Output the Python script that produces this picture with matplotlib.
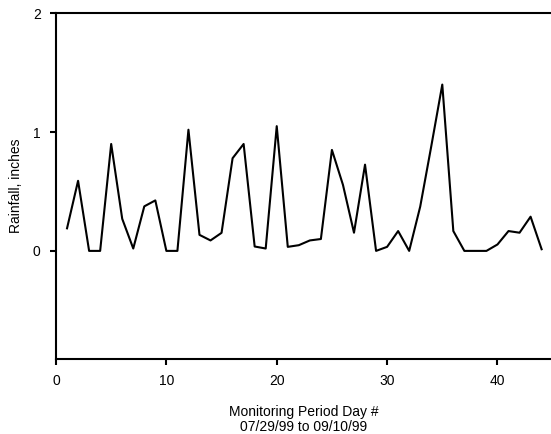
import matplotlib
matplotlib.use("Agg")
import matplotlib.pyplot as plt

plt.rcParams['font.family'] = ['Liberation Sans', 'DejaVu Sans']

days = list(range(1, 45))
rainfall = [0.19, 0.59, 0.0, 0.0, 0.90, 0.27, 0.02, 0.375, 0.425, 0.0,
            0.0, 1.02, 0.135, 0.088, 0.152, 0.78, 0.90, 0.037, 0.02, 1.05,
            0.034, 0.048, 0.088, 0.10, 0.85, 0.556, 0.153, 0.726, 0.0, 0.034,
            0.167, 0.0, 0.373, 0.88, 1.40, 0.167, 0.0, 0.0, 0.0, 0.054,
            0.167, 0.153, 0.288, 0.014]
xticks = [0, 10, 20, 30, 40]
yticks = [0, 1, 2]

fig = plt.figure(figsize=(5.51, 4.34), dpi=100)
ax = fig.add_axes([56/551, 1 - 359/434, 1 - 56/551, (359 - 13.3)/434])
ax.plot(days, rainfall, color='black', linewidth=1.5)
ax.set_xlim(0, 44.85)
ax.set_ylim(-0.91, 2)
ax.set_xticks(xticks)
ax.set_yticks(yticks)
ax.spines['right'].set_visible(False)
for s in ['left', 'bottom', 'top']:
    ax.spines[s].set_linewidth(1.5)
ax.tick_params(direction='out', length=4, width=1.5, labelsize=10, pad=7)
ax.set_ylabel('Rainfall, inches', fontsize=10, labelpad=7)
ax.set_xlabel('Monitoring Period Day #\n07/29/99 to 09/10/99', fontsize=10,
              labelpad=12, linespacing=1.1)
fig.savefig('out.png', dpi=100)
